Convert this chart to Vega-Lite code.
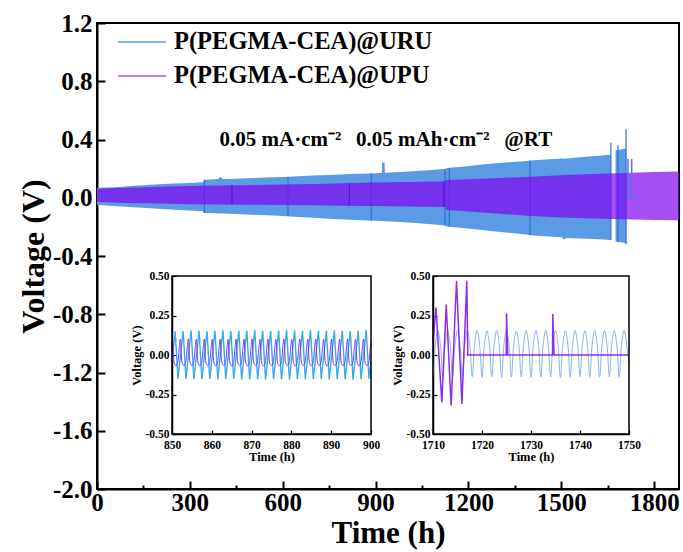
{
  "$schema": "https://vega.github.io/schema/vega-lite/v6.json",
  "width": 582,
  "height": 466,
  "autosize": {"type": "none"},
  "padding": {"left": 97, "top": 23, "right": 4, "bottom": 63},
  "background": "white",
  "config": {
    "view": {"stroke": "black", "strokeWidth": 2},
    "axis": {
      "labelFont": "Liberation Serif", "titleFont": "Liberation Serif",
      "labelFontWeight": "bold", "titleFontWeight": "bold",
      "labelColor": "black", "titleColor": "black",
      "domainColor": "black", "tickColor": "black",
      "grid": false, "labelOverlap": false, "labelFlush": false, "labelBound": false
    }
  },
  "datasets": {
    "band": [
      {"s": "P(PEGMA-CEA)@URU", "seg": "a", "t": 0, "up": 0.068, "lo": -0.048},
      {"s": "P(PEGMA-CEA)@URU", "seg": "a", "t": 40, "up": 0.07, "lo": -0.055},
      {"s": "P(PEGMA-CEA)@URU", "seg": "a", "t": 80, "up": 0.075, "lo": -0.06},
      {"s": "P(PEGMA-CEA)@URU", "seg": "a", "t": 120, "up": 0.082, "lo": -0.066},
      {"s": "P(PEGMA-CEA)@URU", "seg": "a", "t": 160, "up": 0.088, "lo": -0.071},
      {"s": "P(PEGMA-CEA)@URU", "seg": "a", "t": 200, "up": 0.092, "lo": -0.076},
      {"s": "P(PEGMA-CEA)@URU", "seg": "a", "t": 250, "up": 0.097, "lo": -0.082},
      {"s": "P(PEGMA-CEA)@URU", "seg": "a", "t": 300, "up": 0.102, "lo": -0.088},
      {"s": "P(PEGMA-CEA)@URU", "seg": "a", "t": 340, "up": 0.106, "lo": -0.092},
      {"s": "P(PEGMA-CEA)@URU", "seg": "a", "t": 348, "up": 0.124, "lo": -0.104},
      {"s": "P(PEGMA-CEA)@URU", "seg": "a", "t": 380, "up": 0.127, "lo": -0.107},
      {"s": "P(PEGMA-CEA)@URU", "seg": "a", "t": 392, "up": 0.128, "lo": -0.108},
      {"s": "P(PEGMA-CEA)@URU", "seg": "a", "t": 396, "up": 0.14, "lo": -0.108},
      {"s": "P(PEGMA-CEA)@URU", "seg": "a", "t": 402, "up": 0.14, "lo": -0.109},
      {"s": "P(PEGMA-CEA)@URU", "seg": "a", "t": 406, "up": 0.129, "lo": -0.109},
      {"s": "P(PEGMA-CEA)@URU", "seg": "a", "t": 450, "up": 0.131, "lo": -0.112},
      {"s": "P(PEGMA-CEA)@URU", "seg": "a", "t": 500, "up": 0.135, "lo": -0.116},
      {"s": "P(PEGMA-CEA)@URU", "seg": "a", "t": 550, "up": 0.139, "lo": -0.12},
      {"s": "P(PEGMA-CEA)@URU", "seg": "a", "t": 600, "up": 0.143, "lo": -0.126},
      {"s": "P(PEGMA-CEA)@URU", "seg": "a", "t": 650, "up": 0.147, "lo": -0.132},
      {"s": "P(PEGMA-CEA)@URU", "seg": "a", "t": 700, "up": 0.152, "lo": -0.138},
      {"s": "P(PEGMA-CEA)@URU", "seg": "a", "t": 750, "up": 0.157, "lo": -0.144},
      {"s": "P(PEGMA-CEA)@URU", "seg": "a", "t": 800, "up": 0.161, "lo": -0.149},
      {"s": "P(PEGMA-CEA)@URU", "seg": "a", "t": 850, "up": 0.165, "lo": -0.154},
      {"s": "P(PEGMA-CEA)@URU", "seg": "a", "t": 900, "up": 0.169, "lo": -0.158},
      {"s": "P(PEGMA-CEA)@URU", "seg": "a", "t": 920, "up": 0.171, "lo": -0.16},
      {"s": "P(PEGMA-CEA)@URU", "seg": "a", "t": 921, "up": 0.242, "lo": -0.16},
      {"s": "P(PEGMA-CEA)@URU", "seg": "a", "t": 929, "up": 0.242, "lo": -0.161},
      {"s": "P(PEGMA-CEA)@URU", "seg": "a", "t": 930, "up": 0.172, "lo": -0.161},
      {"s": "P(PEGMA-CEA)@URU", "seg": "a", "t": 980, "up": 0.177, "lo": -0.167},
      {"s": "P(PEGMA-CEA)@URU", "seg": "a", "t": 1030, "up": 0.183, "lo": -0.174},
      {"s": "P(PEGMA-CEA)@URU", "seg": "a", "t": 1080, "up": 0.19, "lo": -0.182},
      {"s": "P(PEGMA-CEA)@URU", "seg": "a", "t": 1124, "up": 0.197, "lo": -0.19},
      {"s": "P(PEGMA-CEA)@URU", "seg": "a", "t": 1130, "up": 0.205, "lo": -0.198},
      {"s": "P(PEGMA-CEA)@URU", "seg": "a", "t": 1180, "up": 0.213, "lo": -0.207},
      {"s": "P(PEGMA-CEA)@URU", "seg": "a", "t": 1230, "up": 0.225, "lo": -0.218},
      {"s": "P(PEGMA-CEA)@URU", "seg": "a", "t": 1280, "up": 0.236, "lo": -0.23},
      {"s": "P(PEGMA-CEA)@URU", "seg": "a", "t": 1330, "up": 0.244, "lo": -0.24},
      {"s": "P(PEGMA-CEA)@URU", "seg": "a", "t": 1380, "up": 0.251, "lo": -0.25},
      {"s": "P(PEGMA-CEA)@URU", "seg": "a", "t": 1400, "up": 0.256, "lo": -0.257},
      {"s": "P(PEGMA-CEA)@URU", "seg": "a", "t": 1450, "up": 0.262, "lo": -0.265},
      {"s": "P(PEGMA-CEA)@URU", "seg": "a", "t": 1500, "up": 0.27, "lo": -0.272},
      {"s": "P(PEGMA-CEA)@URU", "seg": "a", "t": 1508, "up": 0.268, "lo": -0.286},
      {"s": "P(PEGMA-CEA)@URU", "seg": "a", "t": 1516, "up": 0.27, "lo": -0.276},
      {"s": "P(PEGMA-CEA)@URU", "seg": "a", "t": 1560, "up": 0.278, "lo": -0.279},
      {"s": "P(PEGMA-CEA)@URU", "seg": "a", "t": 1610, "up": 0.287, "lo": -0.283},
      {"s": "P(PEGMA-CEA)@URU", "seg": "a", "t": 1660, "up": 0.296, "lo": -0.29},
      {"s": "P(PEGMA-CEA)@URU", "seg": "b", "t": 1675, "up": 0.325, "lo": -0.3},
      {"s": "P(PEGMA-CEA)@URU", "seg": "b", "t": 1690, "up": 0.332, "lo": -0.305},
      {"s": "P(PEGMA-CEA)@URU", "seg": "b", "t": 1709, "up": 0.338, "lo": -0.31},
      {"s": "P(PEGMA-CEA)@UPU", "seg": "a", "t": 0, "up": 0.062, "lo": -0.03},
      {"s": "P(PEGMA-CEA)@UPU", "seg": "a", "t": 100, "up": 0.069, "lo": -0.036},
      {"s": "P(PEGMA-CEA)@UPU", "seg": "a", "t": 200, "up": 0.075, "lo": -0.04},
      {"s": "P(PEGMA-CEA)@UPU", "seg": "a", "t": 300, "up": 0.08, "lo": -0.044},
      {"s": "P(PEGMA-CEA)@UPU", "seg": "a", "t": 400, "up": 0.084, "lo": -0.046},
      {"s": "P(PEGMA-CEA)@UPU", "seg": "a", "t": 500, "up": 0.088, "lo": -0.048},
      {"s": "P(PEGMA-CEA)@UPU", "seg": "a", "t": 600, "up": 0.091, "lo": -0.05},
      {"s": "P(PEGMA-CEA)@UPU", "seg": "a", "t": 700, "up": 0.095, "lo": -0.052},
      {"s": "P(PEGMA-CEA)@UPU", "seg": "a", "t": 800, "up": 0.1, "lo": -0.055},
      {"s": "P(PEGMA-CEA)@UPU", "seg": "a", "t": 900, "up": 0.104, "lo": -0.057},
      {"s": "P(PEGMA-CEA)@UPU", "seg": "a", "t": 1000, "up": 0.108, "lo": -0.06},
      {"s": "P(PEGMA-CEA)@UPU", "seg": "a", "t": 1100, "up": 0.112, "lo": -0.063},
      {"s": "P(PEGMA-CEA)@UPU", "seg": "a", "t": 1124, "up": 0.113, "lo": -0.064},
      {"s": "P(PEGMA-CEA)@UPU", "seg": "a", "t": 1128, "up": 0.122, "lo": -0.084},
      {"s": "P(PEGMA-CEA)@UPU", "seg": "a", "t": 1200, "up": 0.127, "lo": -0.095},
      {"s": "P(PEGMA-CEA)@UPU", "seg": "a", "t": 1300, "up": 0.135, "lo": -0.11},
      {"s": "P(PEGMA-CEA)@UPU", "seg": "a", "t": 1400, "up": 0.145, "lo": -0.125},
      {"s": "P(PEGMA-CEA)@UPU", "seg": "a", "t": 1500, "up": 0.155, "lo": -0.135},
      {"s": "P(PEGMA-CEA)@UPU", "seg": "a", "t": 1600, "up": 0.163, "lo": -0.143},
      {"s": "P(PEGMA-CEA)@UPU", "seg": "a", "t": 1700, "up": 0.17, "lo": -0.148},
      {"s": "P(PEGMA-CEA)@UPU", "seg": "a", "t": 1800, "up": 0.176, "lo": -0.152},
      {"s": "P(PEGMA-CEA)@UPU", "seg": "a", "t": 1880, "up": 0.18, "lo": -0.155}
    ],
    "spk": [
      {"s": "P(PEGMA-CEA)@URU", "t": 347, "lo": -0.105, "hi": 0.124},
      {"s": "P(PEGMA-CEA)@URU", "t": 617, "lo": -0.126, "hi": 0.143},
      {"s": "P(PEGMA-CEA)@URU", "t": 886, "lo": -0.156, "hi": 0.168},
      {"s": "P(PEGMA-CEA)@URU", "t": 1124, "lo": -0.19, "hi": 0.197},
      {"s": "P(PEGMA-CEA)@URU", "t": 1138, "lo": -0.2, "hi": 0.205},
      {"s": "P(PEGMA-CEA)@URU", "t": 1399, "lo": -0.257, "hi": 0.256},
      {"s": "P(PEGMA-CEA)@URU", "t": 1660, "lo": -0.29, "hi": 0.378},
      {"s": "P(PEGMA-CEA)@URU", "t": 1683, "lo": -0.305, "hi": 0.36},
      {"s": "P(PEGMA-CEA)@URU", "t": 1709, "lo": -0.32, "hi": 0.47},
      {"s": "P(PEGMA-CEA)@UPU", "t": 436, "lo": -0.046, "hi": 0.084},
      {"s": "P(PEGMA-CEA)@UPU", "t": 815, "lo": -0.055, "hi": 0.1},
      {"s": "P(PEGMA-CEA)@UPU", "t": 1120, "lo": -0.063, "hi": 0.112}
    ],
    "flat": [
      {"s": "P(PEGMA-CEA)@URU", "t": 1709, "v": 0},
      {"s": "P(PEGMA-CEA)@URU", "t": 1715, "v": 0},
      {"s": "P(PEGMA-CEA)@URU", "t": 1715.1, "v": 0.266},
      {"s": "P(PEGMA-CEA)@URU", "t": 1715.6, "v": 0},
      {"s": "P(PEGMA-CEA)@URU", "t": 1727, "v": 0},
      {"s": "P(PEGMA-CEA)@URU", "t": 1727.1, "v": 0.266},
      {"s": "P(PEGMA-CEA)@URU", "t": 1727.6, "v": 0},
      {"s": "P(PEGMA-CEA)@URU", "t": 1754, "v": 0}
    ],
    "in1": [
      {"s": "URU", "t": 850, "v": -0.04},
      {"s": "URU", "t": 850.8, "v": 0.15}, {"s": "URU", "t": 851.5, "v": -0.15}, {"s": "URU", "t": 852.15, "v": 0},
      {"s": "URU", "t": 852.8, "v": 0.152}, {"s": "URU", "t": 853.5, "v": -0.152}, {"s": "URU", "t": 854.15, "v": 0.003},
      {"s": "URU", "t": 854.8, "v": 0.155}, {"s": "URU", "t": 855.5, "v": -0.154}, {"s": "URU", "t": 856.15, "v": 0},
      {"s": "URU", "t": 856.8, "v": 0.153}, {"s": "URU", "t": 857.5, "v": -0.153}, {"s": "URU", "t": 858.15, "v": 0.002},
      {"s": "URU", "t": 858.8, "v": 0.15}, {"s": "URU", "t": 859.5, "v": -0.151}, {"s": "URU", "t": 860.15, "v": 0},
      {"s": "URU", "t": 860.8, "v": 0.154}, {"s": "URU", "t": 861.5, "v": -0.155}, {"s": "URU", "t": 862.15, "v": 0.003},
      {"s": "URU", "t": 862.8, "v": 0.156}, {"s": "URU", "t": 863.5, "v": -0.153}, {"s": "URU", "t": 864.15, "v": 0},
      {"s": "URU", "t": 864.8, "v": 0.152}, {"s": "URU", "t": 865.5, "v": -0.152}, {"s": "URU", "t": 866.15, "v": 0.002},
      {"s": "URU", "t": 866.8, "v": 0.153}, {"s": "URU", "t": 867.5, "v": -0.156}, {"s": "URU", "t": 868.15, "v": 0},
      {"s": "URU", "t": 868.8, "v": 0.155}, {"s": "URU", "t": 869.5, "v": -0.154}, {"s": "URU", "t": 870.15, "v": 0.003},
      {"s": "URU", "t": 870.8, "v": 0.157}, {"s": "URU", "t": 871.5, "v": -0.153}, {"s": "URU", "t": 872.15, "v": 0},
      {"s": "URU", "t": 872.8, "v": 0.154}, {"s": "URU", "t": 873.5, "v": -0.155}, {"s": "URU", "t": 874.15, "v": 0.002},
      {"s": "URU", "t": 874.8, "v": 0.152}, {"s": "URU", "t": 875.5, "v": -0.152}, {"s": "URU", "t": 876.15, "v": 0},
      {"s": "URU", "t": 876.8, "v": 0.155}, {"s": "URU", "t": 877.5, "v": -0.154}, {"s": "URU", "t": 878.15, "v": 0.003},
      {"s": "URU", "t": 878.8, "v": 0.158}, {"s": "URU", "t": 879.5, "v": -0.156}, {"s": "URU", "t": 880.15, "v": 0},
      {"s": "URU", "t": 880.8, "v": 0.156}, {"s": "URU", "t": 881.5, "v": -0.153}, {"s": "URU", "t": 882.15, "v": 0.002},
      {"s": "URU", "t": 882.8, "v": 0.154}, {"s": "URU", "t": 883.5, "v": -0.155}, {"s": "URU", "t": 884.15, "v": 0},
      {"s": "URU", "t": 884.8, "v": 0.157}, {"s": "URU", "t": 885.5, "v": -0.154}, {"s": "URU", "t": 886.15, "v": 0.003},
      {"s": "URU", "t": 886.8, "v": 0.155}, {"s": "URU", "t": 887.5, "v": -0.152}, {"s": "URU", "t": 888.15, "v": 0},
      {"s": "URU", "t": 888.8, "v": 0.153}, {"s": "URU", "t": 889.5, "v": -0.155}, {"s": "URU", "t": 890.15, "v": 0.002},
      {"s": "URU", "t": 890.8, "v": 0.156}, {"s": "URU", "t": 891.5, "v": -0.153}, {"s": "URU", "t": 892.15, "v": 0},
      {"s": "URU", "t": 892.8, "v": 0.154}, {"s": "URU", "t": 893.5, "v": -0.154}, {"s": "URU", "t": 894.15, "v": 0.003},
      {"s": "URU", "t": 894.8, "v": 0.152}, {"s": "URU", "t": 895.5, "v": -0.156}, {"s": "URU", "t": 896.15, "v": 0},
      {"s": "URU", "t": 896.8, "v": 0.155}, {"s": "URU", "t": 897.5, "v": -0.153}, {"s": "URU", "t": 898.15, "v": 0.002},
      {"s": "URU", "t": 898.8, "v": 0.157}, {"s": "URU", "t": 899.5, "v": -0.152}, {"s": "URU", "t": 900, "v": -0.04},
      {"s": "UPU", "t": 850, "v": 0.07},
      {"s": "UPU", "t": 850.1, "v": 0.098}, {"s": "UPU", "t": 850.5, "v": -0.045}, {"s": "UPU", "t": 851, "v": -0.068}, {"s": "UPU", "t": 851.5, "v": -0.04}, {"s": "UPU", "t": 851.85, "v": 0.05},
      {"s": "UPU", "t": 852.1, "v": 0.1}, {"s": "UPU", "t": 852.5, "v": -0.046}, {"s": "UPU", "t": 853, "v": -0.066}, {"s": "UPU", "t": 853.5, "v": -0.042}, {"s": "UPU", "t": 853.85, "v": 0.05},
      {"s": "UPU", "t": 854.1, "v": 0.102}, {"s": "UPU", "t": 854.5, "v": -0.044}, {"s": "UPU", "t": 855, "v": -0.067}, {"s": "UPU", "t": 855.5, "v": -0.04}, {"s": "UPU", "t": 855.85, "v": 0.052},
      {"s": "UPU", "t": 856.1, "v": 0.099}, {"s": "UPU", "t": 856.5, "v": -0.045}, {"s": "UPU", "t": 857, "v": -0.069}, {"s": "UPU", "t": 857.5, "v": -0.041}, {"s": "UPU", "t": 857.85, "v": 0.05},
      {"s": "UPU", "t": 858.1, "v": 0.101}, {"s": "UPU", "t": 858.5, "v": -0.046}, {"s": "UPU", "t": 859, "v": -0.067}, {"s": "UPU", "t": 859.5, "v": -0.04}, {"s": "UPU", "t": 859.85, "v": 0.051},
      {"s": "UPU", "t": 860.1, "v": 0.1}, {"s": "UPU", "t": 860.5, "v": -0.045}, {"s": "UPU", "t": 861, "v": -0.068}, {"s": "UPU", "t": 861.5, "v": -0.042}, {"s": "UPU", "t": 861.85, "v": 0.05},
      {"s": "UPU", "t": 862.1, "v": 0.102}, {"s": "UPU", "t": 862.5, "v": -0.044}, {"s": "UPU", "t": 863, "v": -0.066}, {"s": "UPU", "t": 863.5, "v": -0.04}, {"s": "UPU", "t": 863.85, "v": 0.052},
      {"s": "UPU", "t": 864.1, "v": 0.099}, {"s": "UPU", "t": 864.5, "v": -0.046}, {"s": "UPU", "t": 865, "v": -0.069}, {"s": "UPU", "t": 865.5, "v": -0.041}, {"s": "UPU", "t": 865.85, "v": 0.05},
      {"s": "UPU", "t": 866.1, "v": 0.101}, {"s": "UPU", "t": 866.5, "v": -0.045}, {"s": "UPU", "t": 867, "v": -0.067}, {"s": "UPU", "t": 867.5, "v": -0.04}, {"s": "UPU", "t": 867.85, "v": 0.051},
      {"s": "UPU", "t": 868.1, "v": 0.1}, {"s": "UPU", "t": 868.5, "v": -0.046}, {"s": "UPU", "t": 869, "v": -0.068}, {"s": "UPU", "t": 869.5, "v": -0.042}, {"s": "UPU", "t": 869.85, "v": 0.05},
      {"s": "UPU", "t": 870.1, "v": 0.102}, {"s": "UPU", "t": 870.5, "v": -0.044}, {"s": "UPU", "t": 871, "v": -0.066}, {"s": "UPU", "t": 871.5, "v": -0.04}, {"s": "UPU", "t": 871.85, "v": 0.052},
      {"s": "UPU", "t": 872.1, "v": 0.099}, {"s": "UPU", "t": 872.5, "v": -0.045}, {"s": "UPU", "t": 873, "v": -0.069}, {"s": "UPU", "t": 873.5, "v": -0.041}, {"s": "UPU", "t": 873.85, "v": 0.05},
      {"s": "UPU", "t": 874.1, "v": 0.101}, {"s": "UPU", "t": 874.5, "v": -0.046}, {"s": "UPU", "t": 875, "v": -0.067}, {"s": "UPU", "t": 875.5, "v": -0.04}, {"s": "UPU", "t": 875.85, "v": 0.051},
      {"s": "UPU", "t": 876.1, "v": 0.1}, {"s": "UPU", "t": 876.5, "v": -0.045}, {"s": "UPU", "t": 877, "v": -0.068}, {"s": "UPU", "t": 877.5, "v": -0.042}, {"s": "UPU", "t": 877.85, "v": 0.05},
      {"s": "UPU", "t": 878.1, "v": 0.102}, {"s": "UPU", "t": 878.5, "v": -0.044}, {"s": "UPU", "t": 879, "v": -0.066}, {"s": "UPU", "t": 879.5, "v": -0.04}, {"s": "UPU", "t": 879.85, "v": 0.052},
      {"s": "UPU", "t": 880.1, "v": 0.099}, {"s": "UPU", "t": 880.5, "v": -0.046}, {"s": "UPU", "t": 881, "v": -0.069}, {"s": "UPU", "t": 881.5, "v": -0.041}, {"s": "UPU", "t": 881.85, "v": 0.05},
      {"s": "UPU", "t": 882.1, "v": 0.101}, {"s": "UPU", "t": 882.5, "v": -0.045}, {"s": "UPU", "t": 883, "v": -0.067}, {"s": "UPU", "t": 883.5, "v": -0.04}, {"s": "UPU", "t": 883.85, "v": 0.051},
      {"s": "UPU", "t": 884.1, "v": 0.1}, {"s": "UPU", "t": 884.5, "v": -0.046}, {"s": "UPU", "t": 885, "v": -0.068}, {"s": "UPU", "t": 885.5, "v": -0.042}, {"s": "UPU", "t": 885.85, "v": 0.05},
      {"s": "UPU", "t": 886.1, "v": 0.102}, {"s": "UPU", "t": 886.5, "v": -0.044}, {"s": "UPU", "t": 887, "v": -0.066}, {"s": "UPU", "t": 887.5, "v": -0.04}, {"s": "UPU", "t": 887.85, "v": 0.052},
      {"s": "UPU", "t": 888.1, "v": 0.099}, {"s": "UPU", "t": 888.5, "v": -0.045}, {"s": "UPU", "t": 889, "v": -0.069}, {"s": "UPU", "t": 889.5, "v": -0.041}, {"s": "UPU", "t": 889.85, "v": 0.05},
      {"s": "UPU", "t": 890.1, "v": 0.101}, {"s": "UPU", "t": 890.5, "v": -0.046}, {"s": "UPU", "t": 891, "v": -0.067}, {"s": "UPU", "t": 891.5, "v": -0.04}, {"s": "UPU", "t": 891.85, "v": 0.051},
      {"s": "UPU", "t": 892.1, "v": 0.1}, {"s": "UPU", "t": 892.5, "v": -0.045}, {"s": "UPU", "t": 893, "v": -0.068}, {"s": "UPU", "t": 893.5, "v": -0.042}, {"s": "UPU", "t": 893.85, "v": 0.05},
      {"s": "UPU", "t": 894.1, "v": 0.102}, {"s": "UPU", "t": 894.5, "v": -0.044}, {"s": "UPU", "t": 895, "v": -0.066}, {"s": "UPU", "t": 895.5, "v": -0.04}, {"s": "UPU", "t": 895.85, "v": 0.052},
      {"s": "UPU", "t": 896.1, "v": 0.099}, {"s": "UPU", "t": 896.5, "v": -0.046}, {"s": "UPU", "t": 897, "v": -0.069}, {"s": "UPU", "t": 897.5, "v": -0.041}, {"s": "UPU", "t": 897.85, "v": 0.05},
      {"s": "UPU", "t": 898.1, "v": 0.101}, {"s": "UPU", "t": 898.5, "v": -0.045}, {"s": "UPU", "t": 899, "v": -0.067}, {"s": "UPU", "t": 899.5, "v": -0.04}, {"s": "UPU", "t": 899.85, "v": 0.05},
      {"s": "UPU", "t": 900, "v": 0.08}
    ],
    "in2": [
      {"s": "URU", "t": 1710, "v": -0.14}, {"s": "URU", "t": 1710.5, "v": 0.07}, {"s": "URU", "t": 1711, "v": 0.155}, {"s": "URU", "t": 1711.5, "v": 0.07},
      {"s": "URU", "t": 1712, "v": -0.138}, {"s": "URU", "t": 1712.5, "v": 0.07}, {"s": "URU", "t": 1713, "v": 0.152}, {"s": "URU", "t": 1713.5, "v": 0.07},
      {"s": "URU", "t": 1714, "v": -0.142}, {"s": "URU", "t": 1714.5, "v": 0.07}, {"s": "URU", "t": 1715, "v": 0.157}, {"s": "URU", "t": 1715.5, "v": 0.07},
      {"s": "URU", "t": 1716, "v": -0.14}, {"s": "URU", "t": 1716.5, "v": 0.07}, {"s": "URU", "t": 1717, "v": 0.154}, {"s": "URU", "t": 1717.5, "v": 0.07},
      {"s": "URU", "t": 1718, "v": -0.137}, {"s": "URU", "t": 1718.5, "v": 0.07}, {"s": "URU", "t": 1719, "v": 0.156}, {"s": "URU", "t": 1719.5, "v": 0.07},
      {"s": "URU", "t": 1720, "v": -0.141}, {"s": "URU", "t": 1720.5, "v": 0.07}, {"s": "URU", "t": 1721, "v": 0.153}, {"s": "URU", "t": 1721.5, "v": 0.07},
      {"s": "URU", "t": 1722, "v": -0.139}, {"s": "URU", "t": 1722.5, "v": 0.07}, {"s": "URU", "t": 1723, "v": 0.157}, {"s": "URU", "t": 1723.5, "v": 0.07},
      {"s": "URU", "t": 1724, "v": -0.142}, {"s": "URU", "t": 1724.5, "v": 0.07}, {"s": "URU", "t": 1725, "v": 0.155}, {"s": "URU", "t": 1725.5, "v": 0.07},
      {"s": "URU", "t": 1726, "v": -0.14}, {"s": "URU", "t": 1726.5, "v": 0.07}, {"s": "URU", "t": 1727, "v": 0.152}, {"s": "URU", "t": 1727.5, "v": 0.07},
      {"s": "URU", "t": 1728, "v": -0.138}, {"s": "URU", "t": 1728.5, "v": 0.07}, {"s": "URU", "t": 1729, "v": 0.156}, {"s": "URU", "t": 1729.5, "v": 0.07},
      {"s": "URU", "t": 1730, "v": -0.141}, {"s": "URU", "t": 1730.5, "v": 0.07}, {"s": "URU", "t": 1731, "v": 0.154}, {"s": "URU", "t": 1731.5, "v": 0.07},
      {"s": "URU", "t": 1732, "v": -0.14}, {"s": "URU", "t": 1732.5, "v": 0.07}, {"s": "URU", "t": 1733, "v": 0.157}, {"s": "URU", "t": 1733.5, "v": 0.07},
      {"s": "URU", "t": 1734, "v": -0.139}, {"s": "URU", "t": 1734.5, "v": 0.07}, {"s": "URU", "t": 1735, "v": 0.155}, {"s": "URU", "t": 1735.5, "v": 0.07},
      {"s": "URU", "t": 1736, "v": -0.142}, {"s": "URU", "t": 1736.5, "v": 0.07}, {"s": "URU", "t": 1737, "v": 0.153}, {"s": "URU", "t": 1737.5, "v": 0.07},
      {"s": "URU", "t": 1738, "v": -0.14}, {"s": "URU", "t": 1738.5, "v": 0.07}, {"s": "URU", "t": 1739, "v": 0.156}, {"s": "URU", "t": 1739.5, "v": 0.07},
      {"s": "URU", "t": 1740, "v": -0.138}, {"s": "URU", "t": 1740.5, "v": 0.07}, {"s": "URU", "t": 1741, "v": 0.154}, {"s": "URU", "t": 1741.5, "v": 0.07},
      {"s": "URU", "t": 1742, "v": -0.141}, {"s": "URU", "t": 1742.5, "v": 0.07}, {"s": "URU", "t": 1743, "v": 0.157}, {"s": "URU", "t": 1743.5, "v": 0.07},
      {"s": "URU", "t": 1744, "v": -0.14}, {"s": "URU", "t": 1744.5, "v": 0.07}, {"s": "URU", "t": 1745, "v": 0.155}, {"s": "URU", "t": 1745.5, "v": 0.07},
      {"s": "URU", "t": 1746, "v": -0.139}, {"s": "URU", "t": 1746.5, "v": 0.07}, {"s": "URU", "t": 1747, "v": 0.153}, {"s": "URU", "t": 1747.5, "v": 0.07},
      {"s": "URU", "t": 1748, "v": -0.141}, {"s": "URU", "t": 1748.5, "v": 0.07}, {"s": "URU", "t": 1749, "v": 0.158}, {"s": "URU", "t": 1749.5, "v": 0.07},
      {"s": "URU", "t": 1750, "v": -0.06},
      {"s": "UPU", "t": 1710, "v": 0.08},
      {"s": "UPU", "t": 1710.6, "v": 0.3},
      {"s": "UPU", "t": 1711.8, "v": -0.3},
      {"s": "UPU", "t": 1712.7, "v": 0.32},
      {"s": "UPU", "t": 1713.7, "v": -0.32},
      {"s": "UPU", "t": 1714.8, "v": 0.47},
      {"s": "UPU", "t": 1715.9, "v": -0.31},
      {"s": "UPU", "t": 1716.9, "v": 0.47},
      {"s": "UPU", "t": 1717.1, "v": 0},
      {"s": "UPU", "t": 1724.95, "v": 0},
      {"s": "UPU", "t": 1725, "v": 0.265},
      {"s": "UPU", "t": 1725.25, "v": 0},
      {"s": "UPU", "t": 1734.4, "v": 0},
      {"s": "UPU", "t": 1734.45, "v": 0.26},
      {"s": "UPU", "t": 1734.7, "v": 0},
      {"s": "UPU", "t": 1750, "v": 0}
    ]
  },
  "layer": [
    {
      "layer": [
        {
          "data": {"name": "band"},
          "transform": [{"filter": "datum.s === 'P(PEGMA-CEA)@URU'"}],
          "mark": {"type": "area", "interpolate": "linear"},
          "encoding": {
            "x": {
              "field": "t", "type": "quantitative",
              "scale": {"domain": [0, 1880], "nice": false},
              "axis": {
                "orient": "bottom",
                "values": [0, 150, 300, 450, 600, 750, 900, 1050, 1200, 1350, 1500, 1650, 1800],
                "format": "d",
                "labelExpr": "datum.value % 300 === 0 ? datum.label : ''",
                "tickSize": {"condition": {"test": "datum.value % 300 === 0", "value": -8}, "value": -4},
                "tickWidth": 2, "domainWidth": 2,
                "labelFontSize": 25, "labelPadding": 9,
                "title": "Time (h)", "titleFontSize": 31, "titlePadding": -1
              }
            },
            "y": {
              "field": "up", "type": "quantitative", "stack": null,
              "scale": {"domain": [-2, 1.2], "nice": false},
              "axis": {
                "orient": "left",
                "values": [-2, -1.8, -1.6, -1.4, -1.2, -1, -0.8, -0.6, -0.4, -0.2, 0, 0.2, 0.4, 0.6, 0.8, 1, 1.2],
                "labelExpr": "abs(round(datum.value * 10)) % 4 === 0 ? (datum.value < -0.0001 ? '-' : '') + format(abs(datum.value), '.1f') : ''",
                "tickSize": {"condition": {"test": "abs(round(datum.value * 10)) % 4 === 0", "value": -8}, "value": -4},
                "tickWidth": 2, "domainWidth": 2,
                "labelFontSize": 25, "labelPadding": 13,
                "title": "Voltage (V)", "titleFontSize": 32, "titlePadding": 2
              }
            },
            "y2": {"field": "lo"},
            "detail": {"field": "seg"},
            "color": {
              "field": "s", "type": "nominal",
              "scale": {"domain": ["P(PEGMA-CEA)@URU", "P(PEGMA-CEA)@UPU"], "range": ["#5b9be6", "rgba(128,5,240,0.7)"]},
              "legend": {
                "title": null, "orient": "none", "legendX": 20, "legendY": 7,
                "symbolType": "stroke", "symbolSize": 2304, "symbolStrokeWidth": 1.5,
                "clipHeight": 24, "rowPadding": 9, "padding": 0, "labelOffset": 7,
                "labelFont": "Liberation Serif", "labelFontWeight": "bold", "labelFontSize": 24.5,
                "labelColor": "black", "labelLimit": 0,
                "encode": {"symbols": {"update": {"stroke": {"scale": "color", "field": "value"}, "fill": {"value": "transparent"}}}}
              }
            }
          }
        },
        {
          "data": {"name": "spk"},
          "transform": [{"filter": "datum.s === 'P(PEGMA-CEA)@URU'"}],
          "mark": {"type": "rule", "color": "#2f6fd6", "strokeWidth": 1.2},
          "encoding": {
            "x": {"field": "t", "type": "quantitative"},
            "y": {"field": "lo", "type": "quantitative"},
            "y2": {"field": "hi"}
          }
        },
        {
          "data": {"name": "band"},
          "transform": [{"filter": "datum.s === 'P(PEGMA-CEA)@UPU'"}],
          "mark": {"type": "area", "interpolate": "linear"},
          "encoding": {
            "x": {"field": "t", "type": "quantitative"},
            "y": {"field": "up", "type": "quantitative", "stack": null},
            "y2": {"field": "lo"},
            "detail": {"field": "seg"},
            "color": {"field": "s", "type": "nominal", "legend": null}
          }
        },
        {
          "data": {"name": "spk"},
          "transform": [{"filter": "datum.s === 'P(PEGMA-CEA)@UPU'"}],
          "mark": {"type": "rule", "color": "#5a14d2", "strokeWidth": 1.2},
          "encoding": {
            "x": {"field": "t", "type": "quantitative"},
            "y": {"field": "lo", "type": "quantitative"},
            "y2": {"field": "hi"}
          }
        },
        {
          "data": {"name": "flat"},
          "mark": {"type": "line", "color": "#5b6fe6", "strokeWidth": 1.5},
          "encoding": {
            "x": {"field": "t", "type": "quantitative"},
            "y": {"field": "v", "type": "quantitative"}
          }
        },
        {
          "data": {"values": [{}]},
          "mark": {"type": "text", "font": "Liberation Serif", "fontWeight": "bold", "fontSize": 21, "align": "center", "baseline": "alphabetic", "color": "black"},
          "encoding": {
            "x": {"datum": 933},
            "y": {"datum": 0.356},
            "text": {"value": "0.05 mA·cm⁻²\u2002\u20090.05 mAh·cm⁻²\u2002\u2009@RT"}
          }
        }
      ]
    },
    {
      "layer": [
        {
          "data": {"name": "in1"},
          "transform": [{"filter": "datum.s === 'URU'"}],
          "mark": {"type": "line", "color": "#38a9ee", "strokeWidth": 1.4},
          "encoding": {
            "x": {
              "field": "t", "type": "quantitative",
              "scale": {"domain": [850, 900], "nice": false, "range": [75, 274]},
              "axis": {
                "orient": "bottom", "offset": -55,
                "values": [850, 860, 870, 880, 890, 900], "format": "d",
                "tickSize": -4, "tickWidth": 1.2, "domainWidth": 1.5,
                "labelFontSize": 11.5, "labelPadding": 9,
                "title": "Time (h)", "titleFontSize": 12.5, "titlePadding": 0
              }
            },
            "y": {
              "field": "v", "type": "quantitative",
              "scale": {"domain": [-0.5, 0.5], "nice": false, "range": [411, 253]},
              "axis": {
                "orient": "left", "offset": -75,
                "values": [-0.5, -0.25, 0, 0.25, 0.5],
                "labelExpr": "(datum.value < 0 ? '-' : '') + format(abs(datum.value), '.2f')",
                "tickSize": -4, "tickWidth": 1.2, "domainWidth": 1.5,
                "labelFontSize": 11.5, "labelPadding": 7,
                "title": "Voltage (V)", "titleFontSize": 12.5, "titlePadding": 2
              }
            }
          }
        },
        {
          "data": {"name": "in1"},
          "transform": [{"filter": "datum.s === 'UPU'"}],
          "mark": {"type": "line", "color": "#7a3ef0", "strokeWidth": 1, "interpolate": "monotone"},
          "encoding": {
            "x": {"field": "t", "type": "quantitative"},
            "y": {"field": "v", "type": "quantitative"}
          }
        },
        {
          "data": {"values": [{}]},
          "mark": {"type": "rect", "fill": "transparent", "stroke": "black", "strokeWidth": 1.5},
          "encoding": {
            "x": {"datum": 850}, "x2": {"datum": 900},
            "y": {"datum": -0.5}, "y2": {"datum": 0.5}
          }
        }
      ]
    },
    {
      "layer": [
        {
          "data": {"name": "in2"},
          "transform": [{"filter": "datum.s === 'URU'"}],
          "mark": {"type": "line", "color": "#86b3ee", "strokeWidth": 1, "interpolate": "catmull-rom"},
          "encoding": {
            "x": {
              "field": "t", "type": "quantitative",
              "scale": {"domain": [1710, 1750], "nice": false, "range": [336, 532]},
              "axis": {
                "orient": "bottom", "offset": -55,
                "values": [1710, 1720, 1730, 1740, 1750], "format": "d",
                "tickSize": -4, "tickWidth": 1.2, "domainWidth": 1.5,
                "labelFontSize": 11.5, "labelPadding": 9,
                "title": "Time (h)", "titleFontSize": 12.5, "titlePadding": 0
              }
            },
            "y": {
              "field": "v", "type": "quantitative",
              "scale": {"domain": [-0.5, 0.5], "nice": false, "range": [411, 253]},
              "axis": {
                "orient": "left", "offset": -336,
                "values": [-0.5, -0.25, 0, 0.25, 0.5],
                "labelExpr": "(datum.value < 0 ? '-' : '') + format(abs(datum.value), '.2f')",
                "tickSize": -4, "tickWidth": 1.2, "domainWidth": 1.5,
                "labelFontSize": 11.5, "labelPadding": 7,
                "title": "Voltage (V)", "titleFontSize": 12.5, "titlePadding": 2
              }
            }
          }
        },
        {
          "data": {"name": "in2"},
          "transform": [{"filter": "datum.s === 'UPU'"}],
          "mark": {"type": "line", "color": "#8f2cf0", "strokeWidth": 1.5},
          "encoding": {
            "x": {"field": "t", "type": "quantitative"},
            "y": {"field": "v", "type": "quantitative"}
          }
        },
        {
          "data": {"values": [{}]},
          "mark": {"type": "rect", "fill": "transparent", "stroke": "black", "strokeWidth": 1.5},
          "encoding": {
            "x": {"datum": 1710}, "x2": {"datum": 1750},
            "y": {"datum": -0.5}, "y2": {"datum": 0.5}
          }
        }
      ]
    }
  ],
  "resolve": {"scale": {"x": "independent", "y": "independent"}}
}
